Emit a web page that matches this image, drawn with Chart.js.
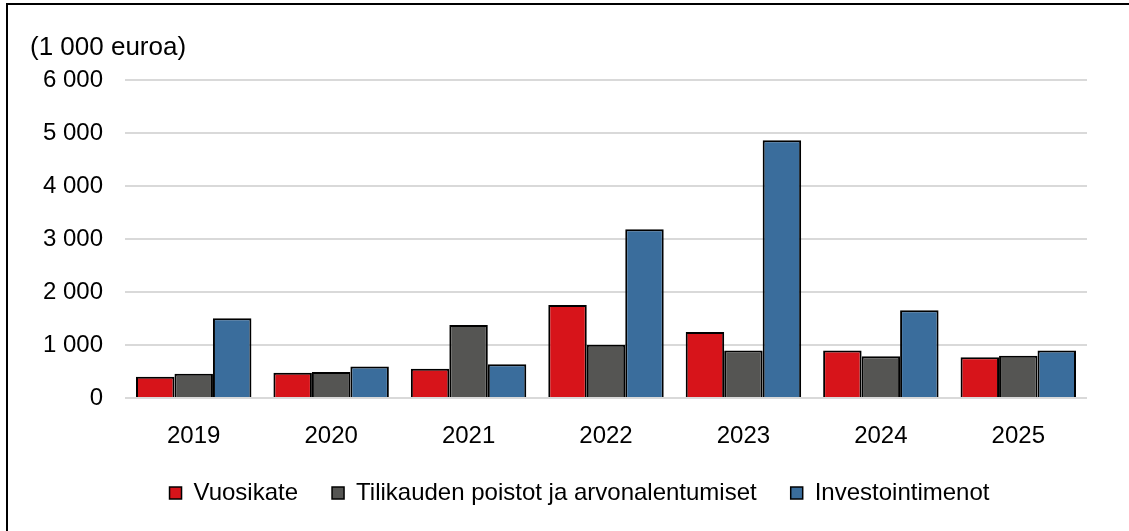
<!DOCTYPE html>
<html>
<head>
<meta charset="utf-8">
<script src="https://cdn.jsdelivr.net/npm/chart.js@4/dist/chart.umd.min.js"></script>
<style>
	body { margin: 0; background: #fff; overflow: hidden; }
	#wrap { position: relative; width: 1129px; height: 531px; }
	#frame { position: absolute; left: 6px; top: 3px; width: 1200px; height: 600px; border: 2px solid #000; box-sizing: border-box; }
	#graph { position: absolute; left: 0; top: 0; }
</style>
</head>
<body>
<div id="wrap">
	<div id="frame"></div>
	<canvas id="graph" width="1129" height="531"></canvas>
</div>
<script>
// data
const years = ['2019', '2020', '2021', '2022', '2023', '2024', '2025'];
const vuosikate = [400, 475, 550, 1755, 1245, 898, 770];
const poistot = [460, 493, 1378, 1005, 898, 788, 800];
const investoinnit = [1505, 594, 638, 3188, 4865, 1658, 898];
const yTicks = [0, 1000, 2000, 3000, 4000, 5000, 6000];

Chart.defaults.font.family = "'Liberation Sans', Arial, sans-serif";
Chart.defaults.color = '#000';

function fmt(v) {
	// thousands with a space, like 6 000
	return String(v).replace(/\B(?=(\d{3})+(?!\d))/g, ' ');
}

const data = {
	labels: years,
	datasets: [{
		label: 'Vuosikate',
		data: vuosikate,
		backgroundColor: '#D7141A'
	},
	{
		label: 'Tilikauden poistot ja arvonalentumiset',
		data: poistot,
		backgroundColor: '#555553'
	},
	{
		label: 'Investointimenot',
		data: investoinnit,
		backgroundColor: '#3A6D9C'
	}]
};

data.datasets.forEach(ds => {
	ds.borderColor = '#000';
	ds.borderWidth = 2;
	ds.barPercentage = 1;
	ds.categoryPercentage = 0.84;
});

// legend keeps its wide gaps but not the tall box that padding gives it,
// and sits a bit right of the plot centre like in the original
const legendTweak = {
	id: 'legendTweak',
	afterInit(chart) {
		const lg = chart.legend;
		const fit = lg.fit;
		lg.fit = function () {
			fit.call(this);
			this.height = 84;
		};
	},
	afterLayout(chart) {
		chart.legend.left += 42;
	}
};

const config = {
	type: 'bar',
	data,
	plugins: [legendTweak],
	options: {
		responsive: false,
		animation: false,
		layout: {
			padding: { left: 30, right: 42, top: 15, bottom: 0 }
		},
		plugins: {
			title: {
				display: true,
				text: '(1 000 euroa)',
				align: 'start',
				font: { size: 26, weight: 'normal' },
				padding: { top: 17, bottom: 17 }
			},
			legend: {
				position: 'bottom',
				labels: {
					boxWidth: 12,
					boxHeight: 12,
					padding: 34,
					font: { size: 24 },
					generateLabels(chart) {
						return chart.data.datasets.map((ds, i) => ({
							text: ds.label,
							fillStyle: ds.backgroundColor,
							strokeStyle: '#000',
							lineWidth: 1.5,
							datasetIndex: i
						}));
					}
				}
			},
			tooltip: { enabled: false }
		},
		scales: {
			x: {
				afterFit(axis) { axis.height = 49; },
				grid: { display: false },
				border: { display: false },
				ticks: { padding: 16, font: { size: 24 } }
			},
			y: {
				min: 0,
				max: 6000,
				afterFit(axis) { axis.width = 95; },
				afterBuildTicks(axis) { axis.ticks = yTicks.map(v => ({ value: v })); },
				grid: { color: '#D9D9D9', lineWidth: 2, drawTicks: false },
				border: { display: false },
				ticks: {
					padding: 22,
					font: { size: 24 },
					callback: v => fmt(v)
				}
			}
		}
	}
};

const myChart = new Chart(document.getElementById('graph'), config);
</script>
</body>
</html>
